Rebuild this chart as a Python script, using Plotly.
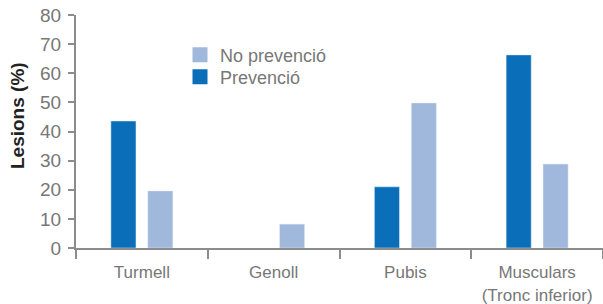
import plotly.graph_objects as go

categories = ["Turmell", "Genoll", "Pubis", "Musculars<br>(Tronc inferior)"]
prevencio = [43.6, None, 21.0, 66.3]
no_prevencio = [19.6, 8.2, 49.8, 28.8]
yticks = [0, 10, 20, 30, 40, 50, 60, 70, 80]

DARK = "#0a6fb8"
LIGHT = "#a0b8dc"
GRAY = "#777777"
AXIS = "#8c8c8c"
FONT = "Liberation Sans"

fig = go.Figure()
fig.add_trace(go.Bar(x=categories, y=prevencio, name="Prevenció", marker_color=DARK,
                     showlegend=False))
fig.add_trace(go.Bar(x=categories, y=no_prevencio, name="No prevenció", marker_color=LIGHT,
                     showlegend=False))
# legend entries with larger square swatches
fig.add_trace(go.Scatter(x=[None], y=[None], mode="markers", name="No prevenció",
                         marker=dict(symbol="square", size=15, color=LIGHT), legend="legend"))
fig.add_trace(go.Scatter(x=[None], y=[None], mode="markers", name="Prevenció",
                         marker=dict(symbol="square", size=15, color=DARK), legend="legend2"))

leg_common = dict(xanchor="left", yanchor="middle", bgcolor="rgba(0,0,0,0)",
                  font=dict(family=FONT, size=18, color=GRAY), itemwidth=30,
                  itemsizing="trace")
plot_top, plot_h, plot_l, plot_w = 15, 233, 76, 527
def px_x(px):
    return (px - plot_l) / plot_w
def px_y(px):
    return (plot_top + plot_h - px) / plot_h

fig.update_layout(
    width=603, height=304,
    margin=dict(l=plot_l, r=0, t=plot_top, b=304 - plot_top - plot_h, autoexpand=False),
    paper_bgcolor="white", plot_bgcolor="white",
    barmode="group", bargap=0.44, bargroupgap=0.32,
    font=dict(family=FONT, color=GRAY, size=16),
    showlegend=True,
    legend=dict(x=px_x(180), y=px_y(55), **leg_common),
    legend2=dict(x=px_x(180), y=px_y(77), **leg_common),
    annotations=[dict(
        text="<b>Lesions (%)</b>", textangle=-90, showarrow=False,
        xref="paper", yref="paper", x=px_x(17), y=px_y(116),
        xanchor="center", yanchor="middle",
        font=dict(family=FONT, size=19, color="#222222"),
    )],
)
fig.update_xaxes(
    showline=True, linecolor=AXIS, linewidth=2,
    ticks="outside", tickson="boundaries", ticklen=9, tickcolor=AXIS, tickwidth=1.5,
    showgrid=False, range=[-0.5, 3.5], automargin=False, ticklabelstandoff=8,
    tickfont=dict(family=FONT, size=17, color=GRAY),
)
fig.update_yaxes(
    range=[0, 80], tickvals=yticks, automargin=False, ticklabelstandoff=3,
    ticklabeloverflow="allow",
    showline=True, linecolor=AXIS, linewidth=2,
    ticks="outside", ticklen=6, tickcolor=AXIS, tickwidth=1.5,
    showgrid=False, zeroline=False,
    tickfont=dict(family=FONT, size=19, color=GRAY),
)

fig.write_html("out.html", config={"displayModeBar": False},
               post_script="document.body.style.margin='0';")
